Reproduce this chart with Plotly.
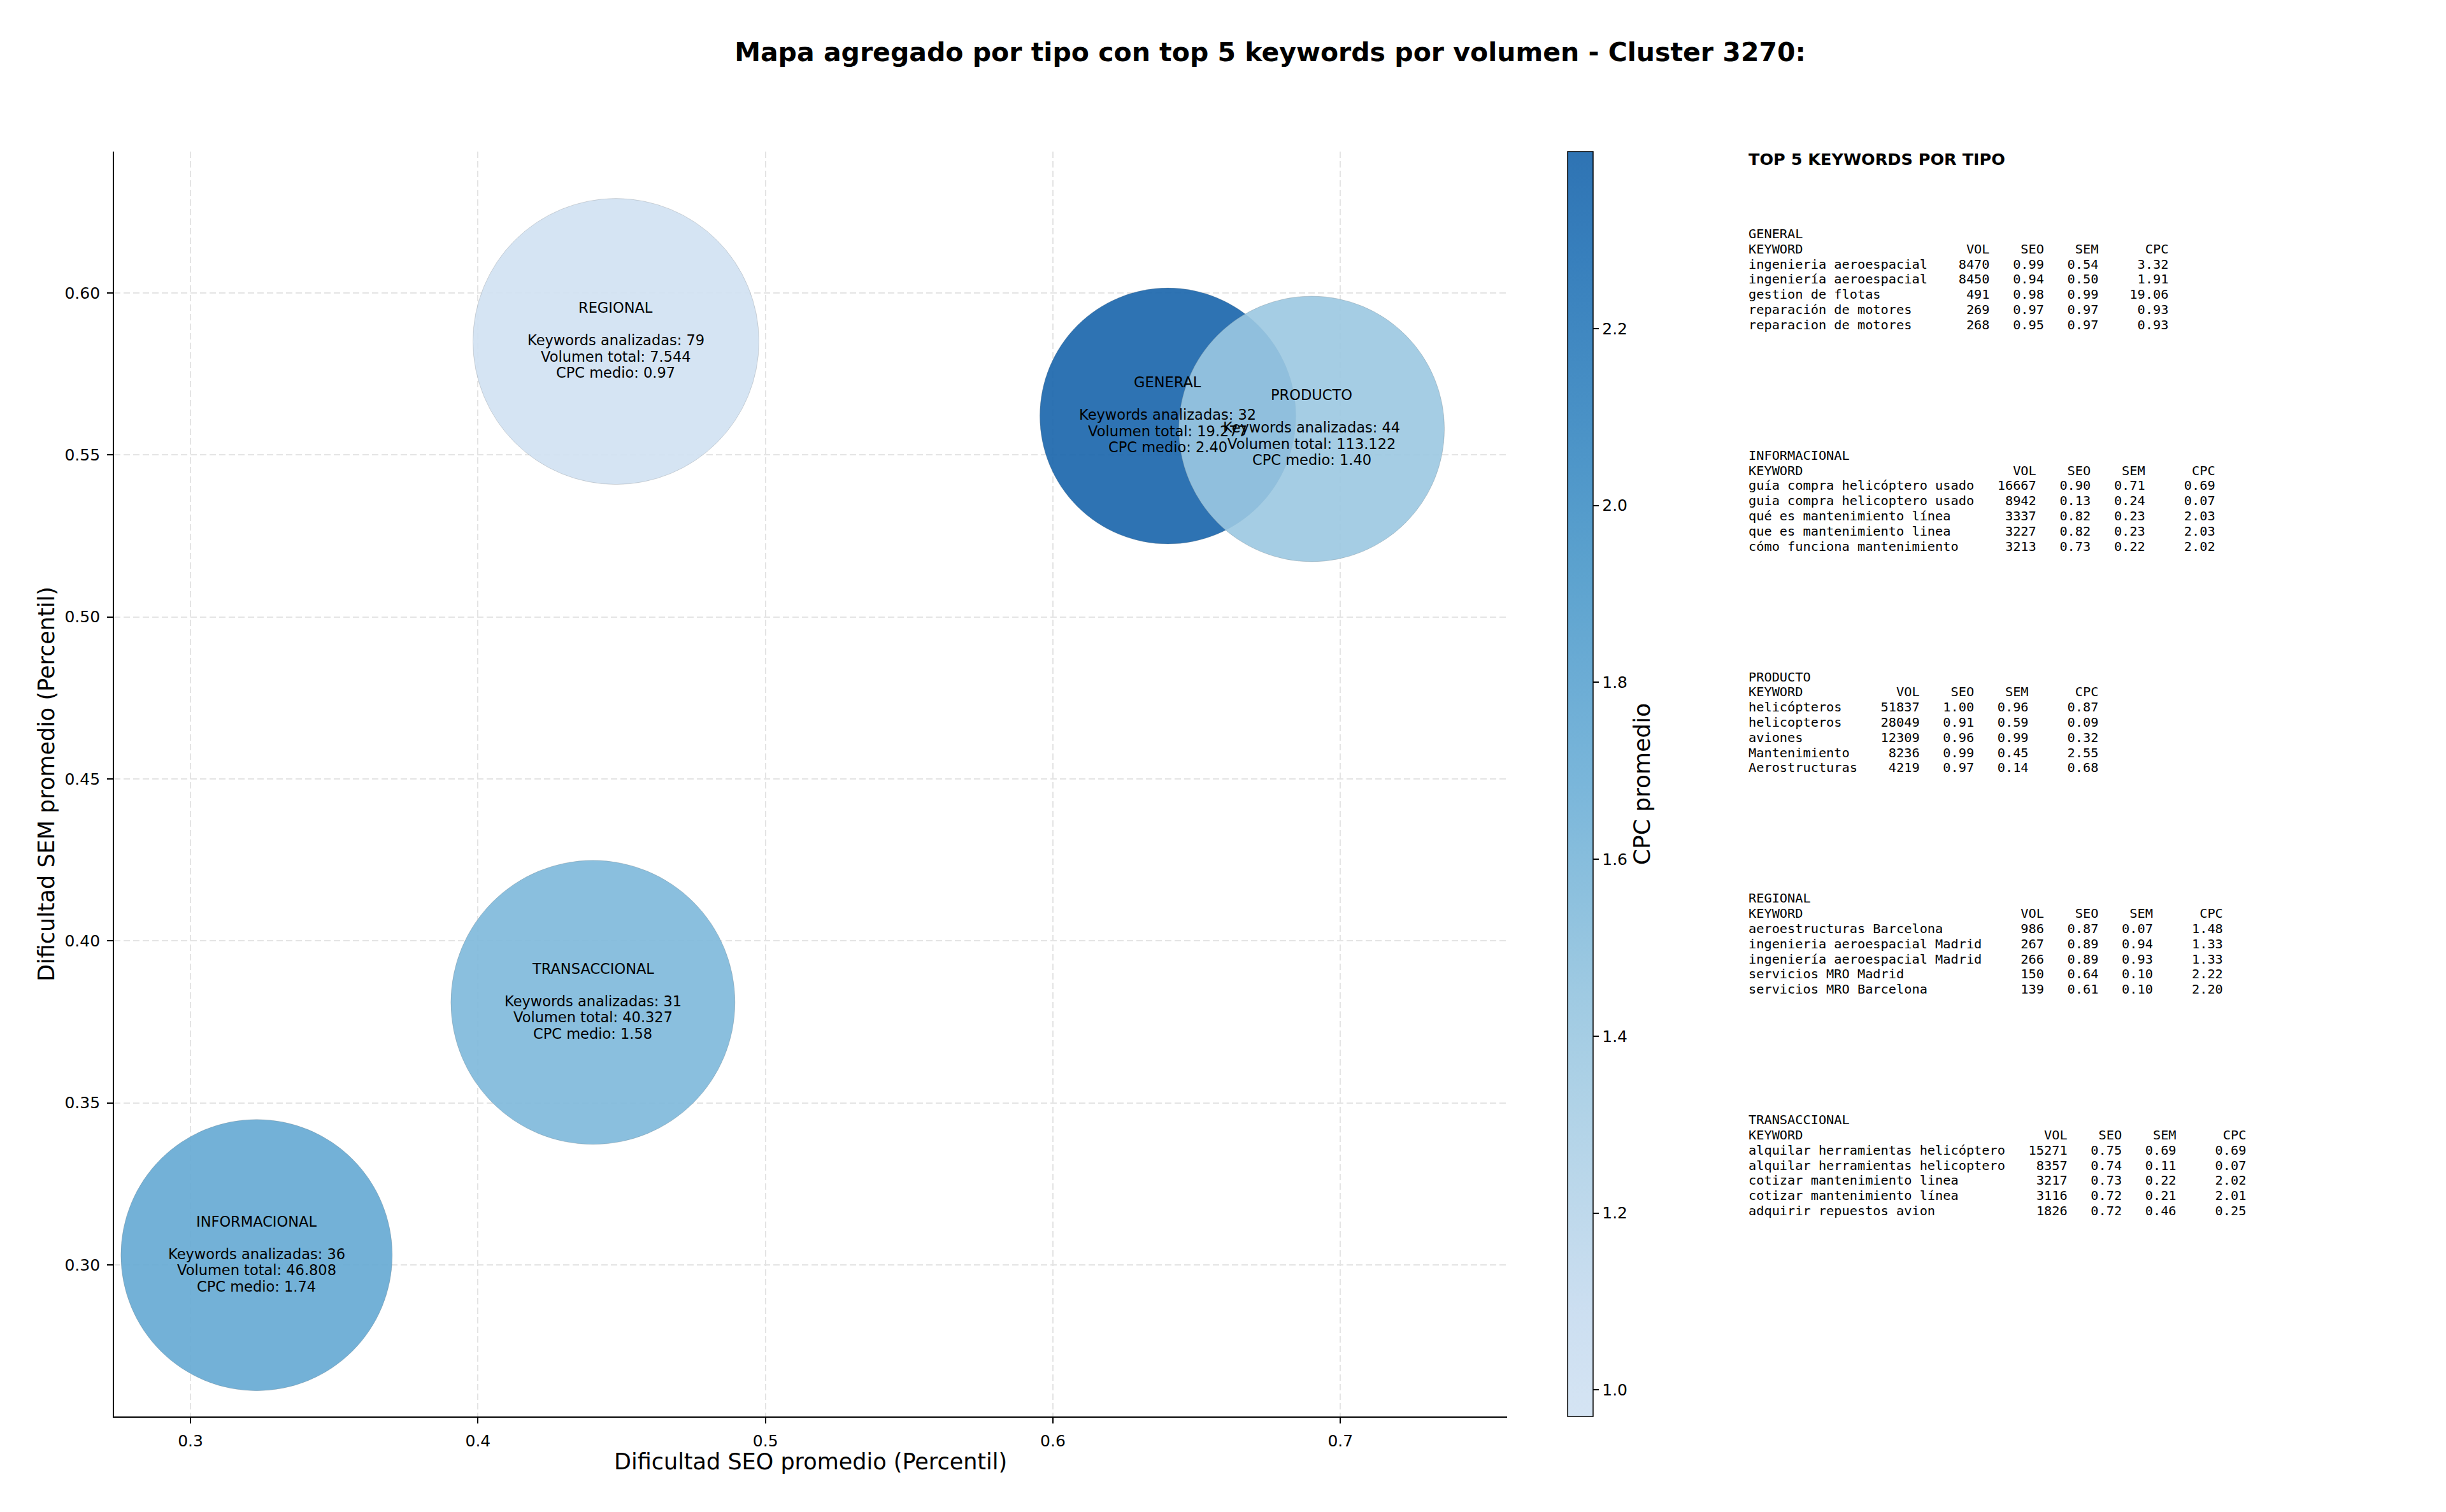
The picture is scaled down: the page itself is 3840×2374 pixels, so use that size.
import plotly.graph_objects as go

# ---------------- data ----------------
types = ["GENERAL", "INFORMACIONAL", "PRODUCTO", "REGIONAL", "TRANSACCIONAL"]
seo_avg = [0.640, 0.323, 0.690, 0.448, 0.440]
sem_avg = [0.562, 0.303, 0.558, 0.585, 0.381]
cpc_avg = [2.40, 1.74, 1.40, 0.97, 1.58]
n_keywords = [32, 36, 44, 79, 31]
vol_total = [19277, 46808, 113122, 7544, 40327]

x_ticks = [0.3, 0.4, 0.5, 0.6, 0.7]
y_ticks = [0.30, 0.35, 0.40, 0.45, 0.50, 0.55, 0.60]
cb_ticks = [1.0, 1.2, 1.4, 1.6, 1.8, 2.0, 2.2]

gen_kw = ["ingenieria aeroespacial", "ingeniería aeroespacial", "gestion de flotas",
          "reparación de motores", "reparacion de motores"]
gen_vol = [8470, 8450, 491, 269, 268]
gen_seo = [0.99, 0.94, 0.98, 0.97, 0.95]
gen_sem = [0.54, 0.50, 0.99, 0.97, 0.97]
gen_cpc = [3.32, 1.91, 19.06, 0.93, 0.93]

inf_kw = ["guía compra helicóptero usado", "guia compra helicoptero usado",
          "qué es mantenimiento línea", "que es mantenimiento linea",
          "cómo funciona mantenimiento"]
inf_vol = [16667, 8942, 3337, 3227, 3213]
inf_seo = [0.90, 0.13, 0.82, 0.82, 0.73]
inf_sem = [0.71, 0.24, 0.23, 0.23, 0.22]
inf_cpc = [0.69, 0.07, 2.03, 2.03, 2.02]

pro_kw = ["helicópteros", "helicopteros", "aviones", "Mantenimiento", "Aerostructuras"]
pro_vol = [51837, 28049, 12309, 8236, 4219]
pro_seo = [1.00, 0.91, 0.96, 0.99, 0.97]
pro_sem = [0.96, 0.59, 0.99, 0.45, 0.14]
pro_cpc = [0.87, 0.09, 0.32, 2.55, 0.68]

reg_kw = ["aeroestructuras Barcelona", "ingenieria aeroespacial Madrid",
          "ingeniería aeroespacial Madrid", "servicios MRO Madrid",
          "servicios MRO Barcelona"]
reg_vol = [986, 267, 266, 150, 139]
reg_seo = [0.87, 0.89, 0.89, 0.64, 0.61]
reg_sem = [0.07, 0.94, 0.93, 0.10, 0.10]
reg_cpc = [1.48, 1.33, 1.33, 2.22, 2.20]

tra_kw = ["alquilar herramientas helicóptero", "alquilar herramientas helicoptero",
          "cotizar mantenimiento linea", "cotizar mantenimiento línea",
          "adquirir repuestos avion"]
tra_vol = [15271, 8357, 3217, 3116, 1826]
tra_seo = [0.75, 0.74, 0.73, 0.72, 0.72]
tra_sem = [0.69, 0.11, 0.22, 0.21, 0.46]
tra_cpc = [0.69, 0.07, 2.02, 2.01, 0.25]

# ---------------- styling ----------------
W, H = 3840, 2374
L, R, T, B = 179, 2366, 238, 2224
bubble_diam = [402, 426, 417, 449, 446]   # marker diameters in px (style)

def px_x(px):
    return (px - L) / (R - L)

def px_y(py):
    return (B - py) / (B - T)

# matplotlib "Blues" anchors, truncated 0.2-0.8, with alpha 0.9
blues = [(0.0, (247, 251, 255)), (0.125, (222, 235, 247)), (0.25, (198, 219, 239)),
         (0.375, (158, 202, 225)), (0.5, (107, 174, 214)), (0.625, (66, 146, 198)),
         (0.75, (33, 113, 181)), (0.875, (8, 81, 156)), (1.0, (8, 48, 107))]

def blues_at(t):
    for (t0, c0), (t1, c1) in zip(blues[:-1], blues[1:]):
        if t0 <= t <= t1:
            f = (t - t0) / (t1 - t0)
            return tuple(c0[i] + f * (c1[i] - c0[i]) for i in range(3))
    return blues[-1][1]

n_stops = 13
colorscale = []
for k in range(n_stops):
    s = k / (n_stops - 1)
    r, g, b = blues_at(0.2 + 0.6 * s)
    colorscale.append([s, f"rgba({r:.0f},{g:.0f},{b:.0f},0.9)"])

FONT = "DejaVu Sans"
MONO = "DejaVu Sans Mono"

fig = go.Figure()
fig.add_trace(go.Scatter(
    x=seo_avg, y=sem_avg, mode="markers",
    text=types, hoverinfo="text",
    marker=dict(
        size=bubble_diam, sizemode="diameter", opacity=1,
        color=cpc_avg, colorscale=colorscale,
        cmin=min(cpc_avg), cmax=max(cpc_avg),
        line=dict(width=1, color="rgba(110,110,110,0.25)"),
        colorbar=dict(
            thickness=40, thicknessmode="pixels", len=1, lenmode="fraction",
            x=px_x(2461), xanchor="left", xpad=0, y=0.5, yanchor="middle", ypad=0,
            outlinewidth=1.5, outlinecolor="black",
            ticks="outside", ticklen=9, tickwidth=1.5, tickcolor="black",
            tickvals=cb_ticks, ticktext=[f"{v:.1f}" for v in cb_ticks],
            tickfont=dict(size=25, family=FONT, color="black"),
            title=dict(text="CPC promedio", side="right",
                       font=dict(size=36, family=FONT, color="black")),
        ),
    ),
    showlegend=False,
))

annotations = []

# bubble labels
line_offsets = [-53, -2, 23.5, 49]
for i, t in enumerate(types):
    lines = [t,
             f"Keywords analizadas: {n_keywords[i]}",
             f"Volumen total: {vol_total[i]:,}".replace(",", "."),
             f"CPC medio: {cpc_avg[i]:.2f}"]
    for txt, off in zip(lines, line_offsets):
        annotations.append(dict(
            x=seo_avg[i], y=sem_avg[i], xref="x", yref="y", text=txt,
            showarrow=False, xanchor="center", yanchor="middle", yshift=-off,
            font=dict(size=22.5, family=FONT, color="black")))

# axis titles
annotations.append(dict(x=0.5, y=px_y(2295), xref="paper", yref="paper",
                        text="Dificultad SEO promedio (Percentil)", showarrow=False,
                        xanchor="center", yanchor="middle",
                        font=dict(size=35, family=FONT, color="black")))
annotations.append(dict(x=px_x(73), y=0.5, xref="paper", yref="paper",
                        text="Dificultad SEM promedio (Percentil)", showarrow=False,
                        textangle=-90, xanchor="center", yanchor="middle",
                        font=dict(size=35, family=FONT, color="black")))

# right-hand panel
annotations.append(dict(x=px_x(2743), y=px_y(250), xref="paper", yref="paper",
                        text="<b>TOP 5 KEYWORDS POR TIPO</b>", showarrow=False,
                        xanchor="left", yanchor="middle",
                        font=dict(size=25.5, family=FONT, color="black")))

groups = [
    ("GENERAL", gen_kw, gen_vol, gen_seo, gen_sem, gen_cpc),
    ("INFORMACIONAL", inf_kw, inf_vol, inf_seo, inf_sem, inf_cpc),
    ("PRODUCTO", pro_kw, pro_vol, pro_seo, pro_sem, pro_cpc),
    ("REGIONAL", reg_kw, reg_vol, reg_seo, reg_sem, reg_cpc),
    ("TRANSACCIONAL", tra_kw, tra_vol, tra_seo, tra_sem, tra_cpc),
]
block_y0, block_step, line_step = 367, 347.8, 23.8
for gi, (name, kws, vols, seos, sems, cpcs) in enumerate(groups):
    w = max(len(k) for k in kws)
    lines = [name, "KEYWORD".ljust(w) + "VOL".rjust(8) + "SEO".rjust(7) + "SEM".rjust(7) + "CPC".rjust(9)]
    for k, v, s1, s2, c in zip(kws, vols, seos, sems, cpcs):
        lines.append(k.ljust(w) + f"{v:>8}" + f"{s1:>7.2f}" + f"{s2:>7.2f}" + f"{c:>9.2f}")
    for li, txt in enumerate(lines):
        py = block_y0 + gi * block_step + li * line_step
        annotations.append(dict(x=px_x(2743), y=px_y(py), xref="paper", yref="paper",
                                text=txt.replace(" ", "\u00a0"), showarrow=False,
                                xanchor="left", yanchor="middle",
                                font=dict(size=20.3, family=MONO, color="black")))

axis_common = dict(
    showline=True, linecolor="black", linewidth=1.8, mirror=False,
    ticks="outside", ticklen=9, tickwidth=1.5, tickcolor="black",
    tickfont=dict(size=25, family=FONT, color="black"),
    showgrid=True, gridcolor="#e4e4e4", gridwidth=1.5, griddash="10px,5px",
    zeroline=False, ticklabelstandoff=6,
)

fig.update_layout(
    width=W, height=H,
    margin=dict(l=L, r=W - R, t=T, b=H - B, autoexpand=False),
    paper_bgcolor="white", plot_bgcolor="white",
    title=dict(text="<b>Mapa agregado por tipo con top 5 keywords por volumen - Cluster 3270:</b>",
               x=1994 / W, xanchor="center", xref="container",
               y=1 - 82 / H, yanchor="middle",
               font=dict(size=41, family=FONT, color="black")),
    xaxis=dict(range=[0.2734, 0.758], tickvals=x_ticks,
               ticktext=[f"{v:.1f}" for v in x_ticks], **axis_common),
    yaxis=dict(range=[0.2532, 0.6436], tickvals=y_ticks,
               ticktext=[f"{v:.2f}" for v in y_ticks], **axis_common),
    annotations=annotations,
    font=dict(family=FONT, color="black"),
)

fig.write_html("out.html")
